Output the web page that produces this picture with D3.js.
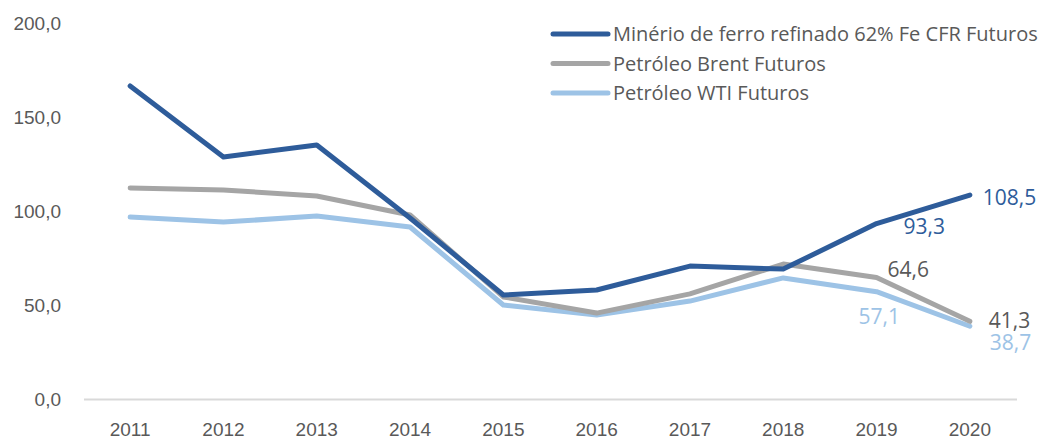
<!DOCTYPE html>
<html>
<head>
<meta charset="utf-8">
<script src="https://cdn.jsdelivr.net/npm/d3@7"></script>
<style>
  body { margin: 0; background: #fff; }
  svg { font-family: "Open Sans", "Noto Sans", sans-serif; }
</style>
</head>
<body>
<div id="chart"></div>
<script>
const years = ['2011', '2012', '2013', '2014', '2015', '2016', '2017', '2018', '2019', '2020']
const ironOre = [166.5, 128.7, 135.1, 96.3, 55.3, 58.0, 70.7, 69.1, 93.3, 108.5]
const brent = [112.2, 111.2, 108.0, 97.9, 54.3, 45.7, 55.9, 71.8, 64.6, 41.3]
const wti = [96.8, 94.1, 97.3, 91.5, 50.0, 44.7, 52.1, 64.4, 57.1, 38.7]
const yTicks = [0, 50, 100, 150, 200]
const seriesNames = ['Minério de ferro refinado 62% Fe CFR Futuros', 'Petróleo Brent Futuros', 'Petróleo WTI Futuros']

const colors = ['#2e5c9a', '#a5a5a5', '#9dc3e6']
const labelColors = ['#2e5c9a', '#595959', '#9dc3e6']

// which points get a value label, and where it sits relative to the point
const labels = [
    [{i: 8, dx: 27, dy: 3}, {i: 9, dx: 13, dy: 3}],
    [{i: 8, dx: 11, dy: -8}, {i: 9, dx: 19, dy: -1}],
    [{i: 8, dx: -18, dy: 25}, {i: 9, dx: 20, dy: 16}]
]

const createChart = () => {
//variables
    const width = 1043
    const height = 438
    const series = [ironOre, brent, wti]

    const x = d3.scaleBand()
        .domain(years)
        .range([83.5, 1016.5])
    const y = d3.scaleLinear()
        .domain([0, 200])
        .range([399, 23])
    const fmt = (d) => d3.format('.1f')(d).replace('.', ',')

    const svg = d3.select('#chart')
        .append('svg')
        .attr('width', width)
        .attr('height', height)

//axes
    const yAxis = svg.append('g')
        .attr('transform', 'translate(64,0)')
        .call(d3.axisLeft(y).tickValues(yTicks).tickSize(0).tickFormat(fmt))
    yAxis.select('.domain').remove()
    yAxis.selectAll('text')
        .attr('fill', '#595959')
        .style('font-size', '19px')

    const xAxis = svg.append('g')
        .attr('transform', `translate(0,${y(0)})`)
        .call(d3.axisBottom(x).tickSize(0).tickPadding(24))
    xAxis.select('.domain')
        .attr('stroke', '#d9d9d9')
        .attr('stroke-width', 2)
    xAxis.selectAll('text')
        .attr('fill', '#595959')
        .style('font-size', '19px')

//lines
    const line = d3.line()
        .x((d, i) => x(years[i]) + x.bandwidth() / 2)
        .y((d) => y(d))

    series.slice().reverse().forEach((s, k) => {
        const idx = series.length - 1 - k
        svg.append('path')
            .datum(s)
            .attr('fill', 'none')
            .attr('stroke', colors[idx])
            .attr('stroke-width', 5)
            .attr('stroke-linejoin', 'round')
            .attr('stroke-linecap', 'round')
            .attr('d', line)
    })

//data labels
    series.forEach((s, idx) => {
        labels[idx].forEach((l) => {
            svg.append('text')
                .attr('x', x(years[l.i]) + x.bandwidth() / 2 + l.dx)
                .attr('y', y(s[l.i]) + l.dy)
                .attr('dy', '0.35em')
                .attr('fill', labelColors[idx])
                .style('font-size', '21px')
                .text(fmt(s[l.i]))
        })
    })

//legend
    const legend = svg.append('g')
        .selectAll('g')
        .data(seriesNames)
        .enter()
        .append('g')
        .attr('transform', (d, i) => `translate(553,${34 + i * 29.5})`)
    legend.append('line')
        .attr('x1', 0)
        .attr('x2', 55)
        .attr('stroke', (d, i) => colors[i])
        .attr('stroke-width', 5)
        .attr('stroke-linecap', 'round')
    legend.append('text')
        .attr('x', 60)
        .attr('dy', '0.35em')
        .attr('fill', '#595959')
        .style('font-size', '20px')
        .text((d) => d)
}

createChart()
</script>
</body>
</html>
